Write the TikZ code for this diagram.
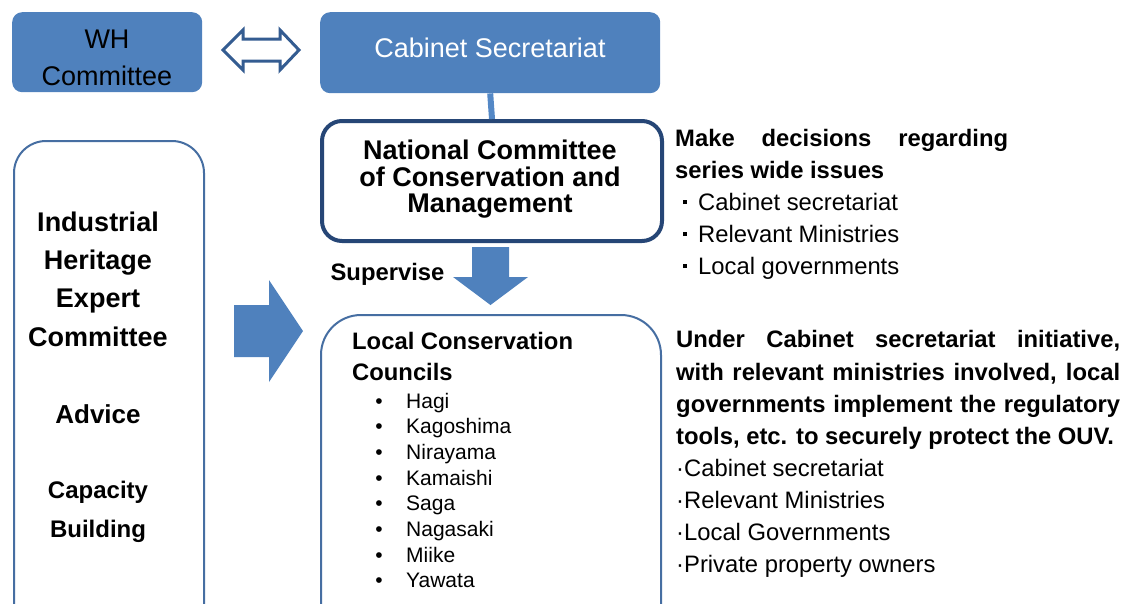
\documentclass[tikz,border=0pt]{standalone}
\usepackage{fontspec}
\setmainfont{Liberation Sans}
\definecolor{fillblue}{RGB}{79,129,189}
\definecolor{linkblue}{RGB}{84,136,198}
\definecolor{navy}{RGB}{38,70,118}
\definecolor{edgeblue}{RGB}{70,110,162}
\definecolor{arrowedge}{RGB}{52,92,145}
\begin{document}
\begin{tikzpicture}[x=1pt,y=-1pt,
  bluebox/.style={fill=fillblue, draw=none, rounded corners=10, anchor=north west, inner sep=0},
  thinbox/.style={draw=edgeblue, line width=2, fill=white, anchor=north west, inner sep=0},
  txt/.style={anchor=base, inner sep=0, text=black},
  big/.style={font=\fontsize{27}{30}\selectfont},
  bigb/.style={font=\bfseries\fontsize{27}{30}\selectfont},
  midb/.style={font=\bfseries\fontsize{23.8}{28}\selectfont},
  mid/.style={font=\fontsize{23.8}{28}\selectfont},
  small/.style={font=\fontsize{21}{25}\selectfont},
  blockarrow/.style={fill=fillblue, draw=none}
]
\useasboundingbox (0,0) rectangle (1126,603);
\clip (0,0) rectangle (1126,603);

% top boxes
\node[bluebox, minimum width=190, minimum height=80] (wh) at (12,12) {};
\node[bluebox, minimum width=340, minimum height=81] (cab) at (320,12) {};
\node[txt, big] (whA) at (107,48) {WH};
\node[txt, big] (whB) at (107,85) {Committee};
\node[txt, big, text=white] (cabT) at (490,57) {Cabinet Secretariat};

% double arrow
\draw[draw=arrowedge, line width=3, fill=white, line join=miter]
  (223,50) -- (243,30) -- (243,39) -- (280,39) -- (280,30) -- (299,50)
  -- (280,70) -- (280,61) -- (243,61) -- (243,70) -- cycle;

% national committee
\node[draw=navy, line width=4, fill=white, rounded corners=20, anchor=north west, inner sep=0,
      minimum width=340, minimum height=120] (nat) at (320,119) {};
\draw[linkblue, line width=6] (cab.south) -- (nat.north);
\node[txt, bigb] (natA) at (490,159) {National Committee};
\node[txt, bigb] (natB) at (490,186) {of Conservation and};
\node[txt, bigb] (natC) at (490,212) {Management};

% supervise arrow
\draw[blockarrow] (472,247) -- (509,247) -- (509,277) -- (528,277) -- (490.5,305)
  -- (453,277) -- (472,277) -- cycle;
\node[txt, midb] (sup) at (387.5,280) {Supervise};

% left box
\node[thinbox, rounded corners=32, minimum width=190, minimum height=520] (left) at (13,140) {};
\node[txt, bigb] (l1) at (98,231) {Industrial};
\node[txt, bigb] (l2) at (98,269) {Heritage};
\node[txt, bigb] (l3) at (98,307) {Expert};
\node[txt, bigb] (l4) at (98,346) {Committee};
\node[txt, font=\bfseries\fontsize{26}{30}\selectfont] (l5) at (98,423) {Advice};
\node[txt, font=\bfseries\fontsize{24}{28}\selectfont] (l6) at (98,498) {Capacity};
\node[txt, font=\bfseries\fontsize{24}{28}\selectfont] (l7) at (98,537) {Building};

% right arrow
\draw[blockarrow] (234,305) -- (269,305) -- (269,280) -- (303,331) -- (269,382)
  -- (269,357) -- (234,357) -- cycle;

% local box
\node[thinbox, rounded corners=40, minimum width=340, minimum height=350] (loc) at (320,314) {};
\node[txt, midb, anchor=base west] (locA) at (352,349) {Local Conservation};
\node[txt, midb, anchor=base west] (locB) at (352,380) {Councils};
\foreach \name [count=\i from 0] in {Hagi,Kagoshima,Nirayama,Kamaishi,Saga,Nagasaki,Miike,Yawata}{
  \node[txt, small] (b\i) at (379,408+25.7*\i) {•};
  \node[txt, small, anchor=base west] (it\i) at (406,408+25.7*\i) {\name};
}

% right text 1
\node[txt, midb, anchor=base west] (r1a) at (675,146) {\makebox[333pt][s]{Make decisions regarding}};
\node[txt, midb, anchor=base west] (r1b) at (675,178) {series wide issues};
\foreach \t [count=\i from 0] in {Cabinet secretariat,Relevant Ministries,Local governments}{
  \node[txt, mid] (rd\i) at (685,210+32*\i) {\rule[6pt]{3.6pt}{3.6pt}};
  \node[txt, mid, anchor=base west] (ri\i) at (698,210+32*\i) {\t};
}

% right text 2
\node[txt, midb, anchor=base west] (r2a) at (676,347) {\makebox[444pt][s]{Under Cabinet secretariat initiative,}};
\node[txt, midb, anchor=base west] (r2b) at (676,380) {\makebox[444pt][s]{with relevant ministries involved, local}};
\node[txt, midb, anchor=base west] (r2c) at (676,412) {\makebox[444pt][s]{governments implement the regulatory}};
\node[txt, midb, anchor=base west] (r2d) at (676,444) {tools, etc. to securely protect the OUV.};
\foreach \t [count=\i from 0] in {Cabinet secretariat,Relevant Ministries,Local Governments,Private property owners}{
  \node[txt, mid, anchor=base west] (rj\i) at (676,476+32.3*\i) {·\t};
}
\end{tikzpicture}
\end{document}
